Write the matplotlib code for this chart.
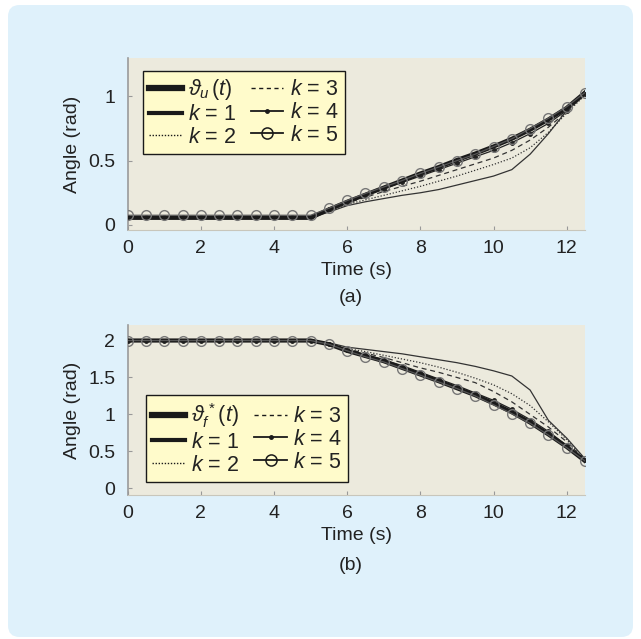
import matplotlib
matplotlib.use("Agg")
import matplotlib.pyplot as plt
from matplotlib.patches import FancyBboxPatch
from matplotlib.lines import Line2D

plt.rcParams['font.family'] = ['Liberation Sans', 'DejaVu Sans']
plt.rcParams['mathtext.fontset'] = 'custom'
plt.rcParams['mathtext.rm'] = 'Liberation Sans'
plt.rcParams['mathtext.it'] = 'Liberation Sans:italic'
plt.rcParams['mathtext.sf'] = 'Liberation Sans'

# time grid (s)
t = [0.0, 0.5, 1.0, 1.5, 2.0, 2.5, 3.0, 3.5, 4.0, 4.5, 5.0, 5.5, 6.0,
     6.5, 7.0, 7.5, 8.0, 8.5, 9.0, 9.5, 10.0, 10.5, 11.0, 11.5, 12.0, 12.5]

# ---- panel (a): input angle ----
theta_u = [0.055]*11 + [0.12, 0.18, 0.235, 0.29, 0.345, 0.40, 0.45, 0.505,
                        0.555, 0.61, 0.67, 0.74, 0.82, 0.91, 1.03]
a_k1 = [0.055]*11 + [0.10, 0.15, 0.18, 0.205, 0.23, 0.25, 0.275, 0.31,
                     0.345, 0.38, 0.43, 0.55, 0.71, 0.89, 1.01]
a_k2 = [0.055]*11 + [0.11, 0.16, 0.195, 0.23, 0.265, 0.30, 0.34, 0.38,
                     0.425, 0.47, 0.52, 0.60, 0.72, 0.87, 1.01]
a_k3 = [0.055]*11 + [0.115, 0.17, 0.215, 0.26, 0.30, 0.34, 0.385, 0.43,
                     0.475, 0.52, 0.58, 0.66, 0.76, 0.88, 1.02]
a_k4 = [0.06]*11 + [0.12, 0.175, 0.23, 0.28, 0.33, 0.38, 0.43, 0.48,
                    0.53, 0.58, 0.64, 0.71, 0.79, 0.89, 1.02]
a_k5 = [0.075]*11 + [0.13, 0.19, 0.245, 0.295, 0.345, 0.40, 0.45, 0.50,
                     0.55, 0.61, 0.67, 0.75, 0.83, 0.92, 1.03]

# ---- panel (b): output angle ----
theta_f = [2.0]*11 + [1.95, 1.86, 1.79, 1.72, 1.63, 1.54, 1.45, 1.355,
                      1.26, 1.15, 1.03, 0.89, 0.73, 0.56, 0.37]
b_k1 = [2.0]*11 + [1.97, 1.91, 1.88, 1.85, 1.82, 1.78, 1.74, 1.70,
                   1.65, 1.59, 1.52, 1.33, 0.92, 0.68, 0.40]
b_k2 = [2.0]*11 + [1.96, 1.89, 1.85, 1.80, 1.75, 1.70, 1.64, 1.57,
                   1.49, 1.40, 1.28, 1.12, 0.90, 0.66, 0.39]
b_k3 = [2.0]*11 + [1.96, 1.88, 1.83, 1.77, 1.70, 1.63, 1.57, 1.50,
                   1.43, 1.31, 1.17, 1.00, 0.83, 0.63, 0.38]
b_k4 = [2.0]*11 + [1.95, 1.87, 1.81, 1.74, 1.66, 1.57, 1.48, 1.39,
                   1.29, 1.19, 1.07, 0.93, 0.77, 0.58, 0.38]
b_k5 = [2.0]*11 + [1.95, 1.86, 1.78, 1.71, 1.62, 1.53, 1.44, 1.35,
                   1.25, 1.13, 1.01, 0.88, 0.72, 0.55, 0.37]

xticks = [0, 2, 4, 6, 8, 10, 12]
yticks_a = [0, 0.5, 1]
yticks_b = [0, 0.5, 1, 1.5, 2]
k_labels = ['$k$ = 1', '$k$ = 2', '$k$ = 3', '$k$ = 4', '$k$ = 5']

BG = '#DFF1FB'
AXBG = '#ECEADD'
LEGBG = '#FFFBCB'
TXT = '#222222'

fig = plt.figure(figsize=(6.41, 6.39), dpi=100)
fig.patch.set_facecolor('white')
panel = FancyBboxPatch((8/641, 2/639), 625/641, 632/639,
                       boxstyle="round,pad=0,rounding_size=0.018",
                       transform=fig.transFigure, facecolor=BG,
                       edgecolor='none', zorder=-10)
fig.patches.append(panel)


def style_axes(ax, yticks, ylim):
    ax.set_facecolor(AXBG)
    ax.set_xlim(0, 12.5)
    ax.set_ylim(*ylim)
    ax.set_xticks(xticks)
    ax.set_xticklabels([str(v) for v in xticks])
    ax.set_yticks(yticks)
    ax.set_yticklabels([('%g' % v) for v in yticks])
    for s in ['top', 'right']:
        ax.spines[s].set_visible(False)
    ax.spines['left'].set_color('#9a9a9a')
    ax.spines['left'].set_linewidth(1.2)
    ax.spines['bottom'].set_color('#c8c6bb')
    ax.spines['bottom'].set_linewidth(0.8)
    ax.tick_params(direction='in', length=3, width=0.8, color='#999999',
                   labelsize=14, labelcolor=TXT)
    ax.tick_params(axis='y', pad=9)
    ax.tick_params(axis='x', pad=7)
    ax.set_xlabel('Time (s)', fontsize=14, color=TXT, labelpad=4)
    ax.set_ylabel('Angle (rad)', fontsize=14, color=TXT, labelpad=5)


def draw(ax, ref, k1, k2, k3, k4, k5):
    ax.plot(t, ref, color='#1a1a1a', lw=3.0, zorder=5)
    ax.plot(t, k1, color='#333333', lw=0.9, zorder=3)
    ax.plot(t, k2, color='#333333', lw=0.9, ls=(0, (1, 1.5)), zorder=3)
    ax.plot(t, k3, color='#333333', lw=0.9, ls=(0, (4, 3)), zorder=3)
    ax.plot(t, k4, color='#222222', lw=0.9, marker='o', ms=2.5, zorder=4)
    ax.plot(t, k5, color='#555555', lw=0.9, marker='o', ms=7,
            mfc='none', mec='#777777', mew=1.0, zorder=6)


def legend_handles():
    return [
        Line2D([], [], color='#1a1a1a', lw=4.5),
        Line2D([], [], color='#1a1a1a', lw=3.0),
        Line2D([], [], color='#1a1a1a', lw=1.0, ls=(0, (1, 1.2))),
        Line2D([], [], color='#1a1a1a', lw=1.0, ls=(0, (3, 2.5))),
        Line2D([], [], color='#1a1a1a', lw=1.3, marker='o', ms=2.5),
        Line2D([], [], color='#1a1a1a', lw=1.3, marker='o', ms=8, mfc='none', mew=1.1),
    ]


def add_legend(ax, labels, loc, anchor):
    leg = ax.legend(legend_handles(), labels, ncol=2, loc=loc,
                    bbox_to_anchor=anchor, borderaxespad=0, fontsize=15.5,
                    frameon=True, fancybox=False, edgecolor='#1a1a1a',
                    facecolor=LEGBG, framealpha=1, handlelength=1.5,
                    handletextpad=0.3, columnspacing=0.7, labelspacing=0.08,
                    borderpad=0.3)
    leg.get_frame().set_linewidth(1.0)
    for txt in leg.get_texts():
        txt.set_color(TXT)
    return leg


# ---- (a)
ax1 = fig.add_axes([0.1992, 0.640, 0.7134, 0.2695])
draw(ax1, theta_u, a_k1, a_k2, a_k3, a_k4, a_k5)
style_axes(ax1, yticks_a, (-0.04, 1.30))
add_legend(ax1, [r'$\vartheta_u\,(t)$'] + k_labels, 'upper left', (0.033, 0.924))
fig.text(0.5 + 0.047, 1 - 297/639, '(a)', ha='center', va='center',
         fontsize=14, color=TXT)

# ---- (b)
ax2 = fig.add_axes([0.1992, 0.2254, 0.7134, 0.266])
draw(ax2, theta_f, b_k1, b_k2, b_k3, b_k4, b_k5)
style_axes(ax2, yticks_b, (-0.09, 2.21))
add_legend(ax2, [r'$\vartheta_f^{\,*}(t)$'] + k_labels, 'lower left', (0.04, 0.076))
fig.text(0.5 + 0.047, 1 - 566/639, '(b)', ha='center', va='center',
         fontsize=14, color=TXT)

fig.savefig('out.png', dpi=100, facecolor='white')
